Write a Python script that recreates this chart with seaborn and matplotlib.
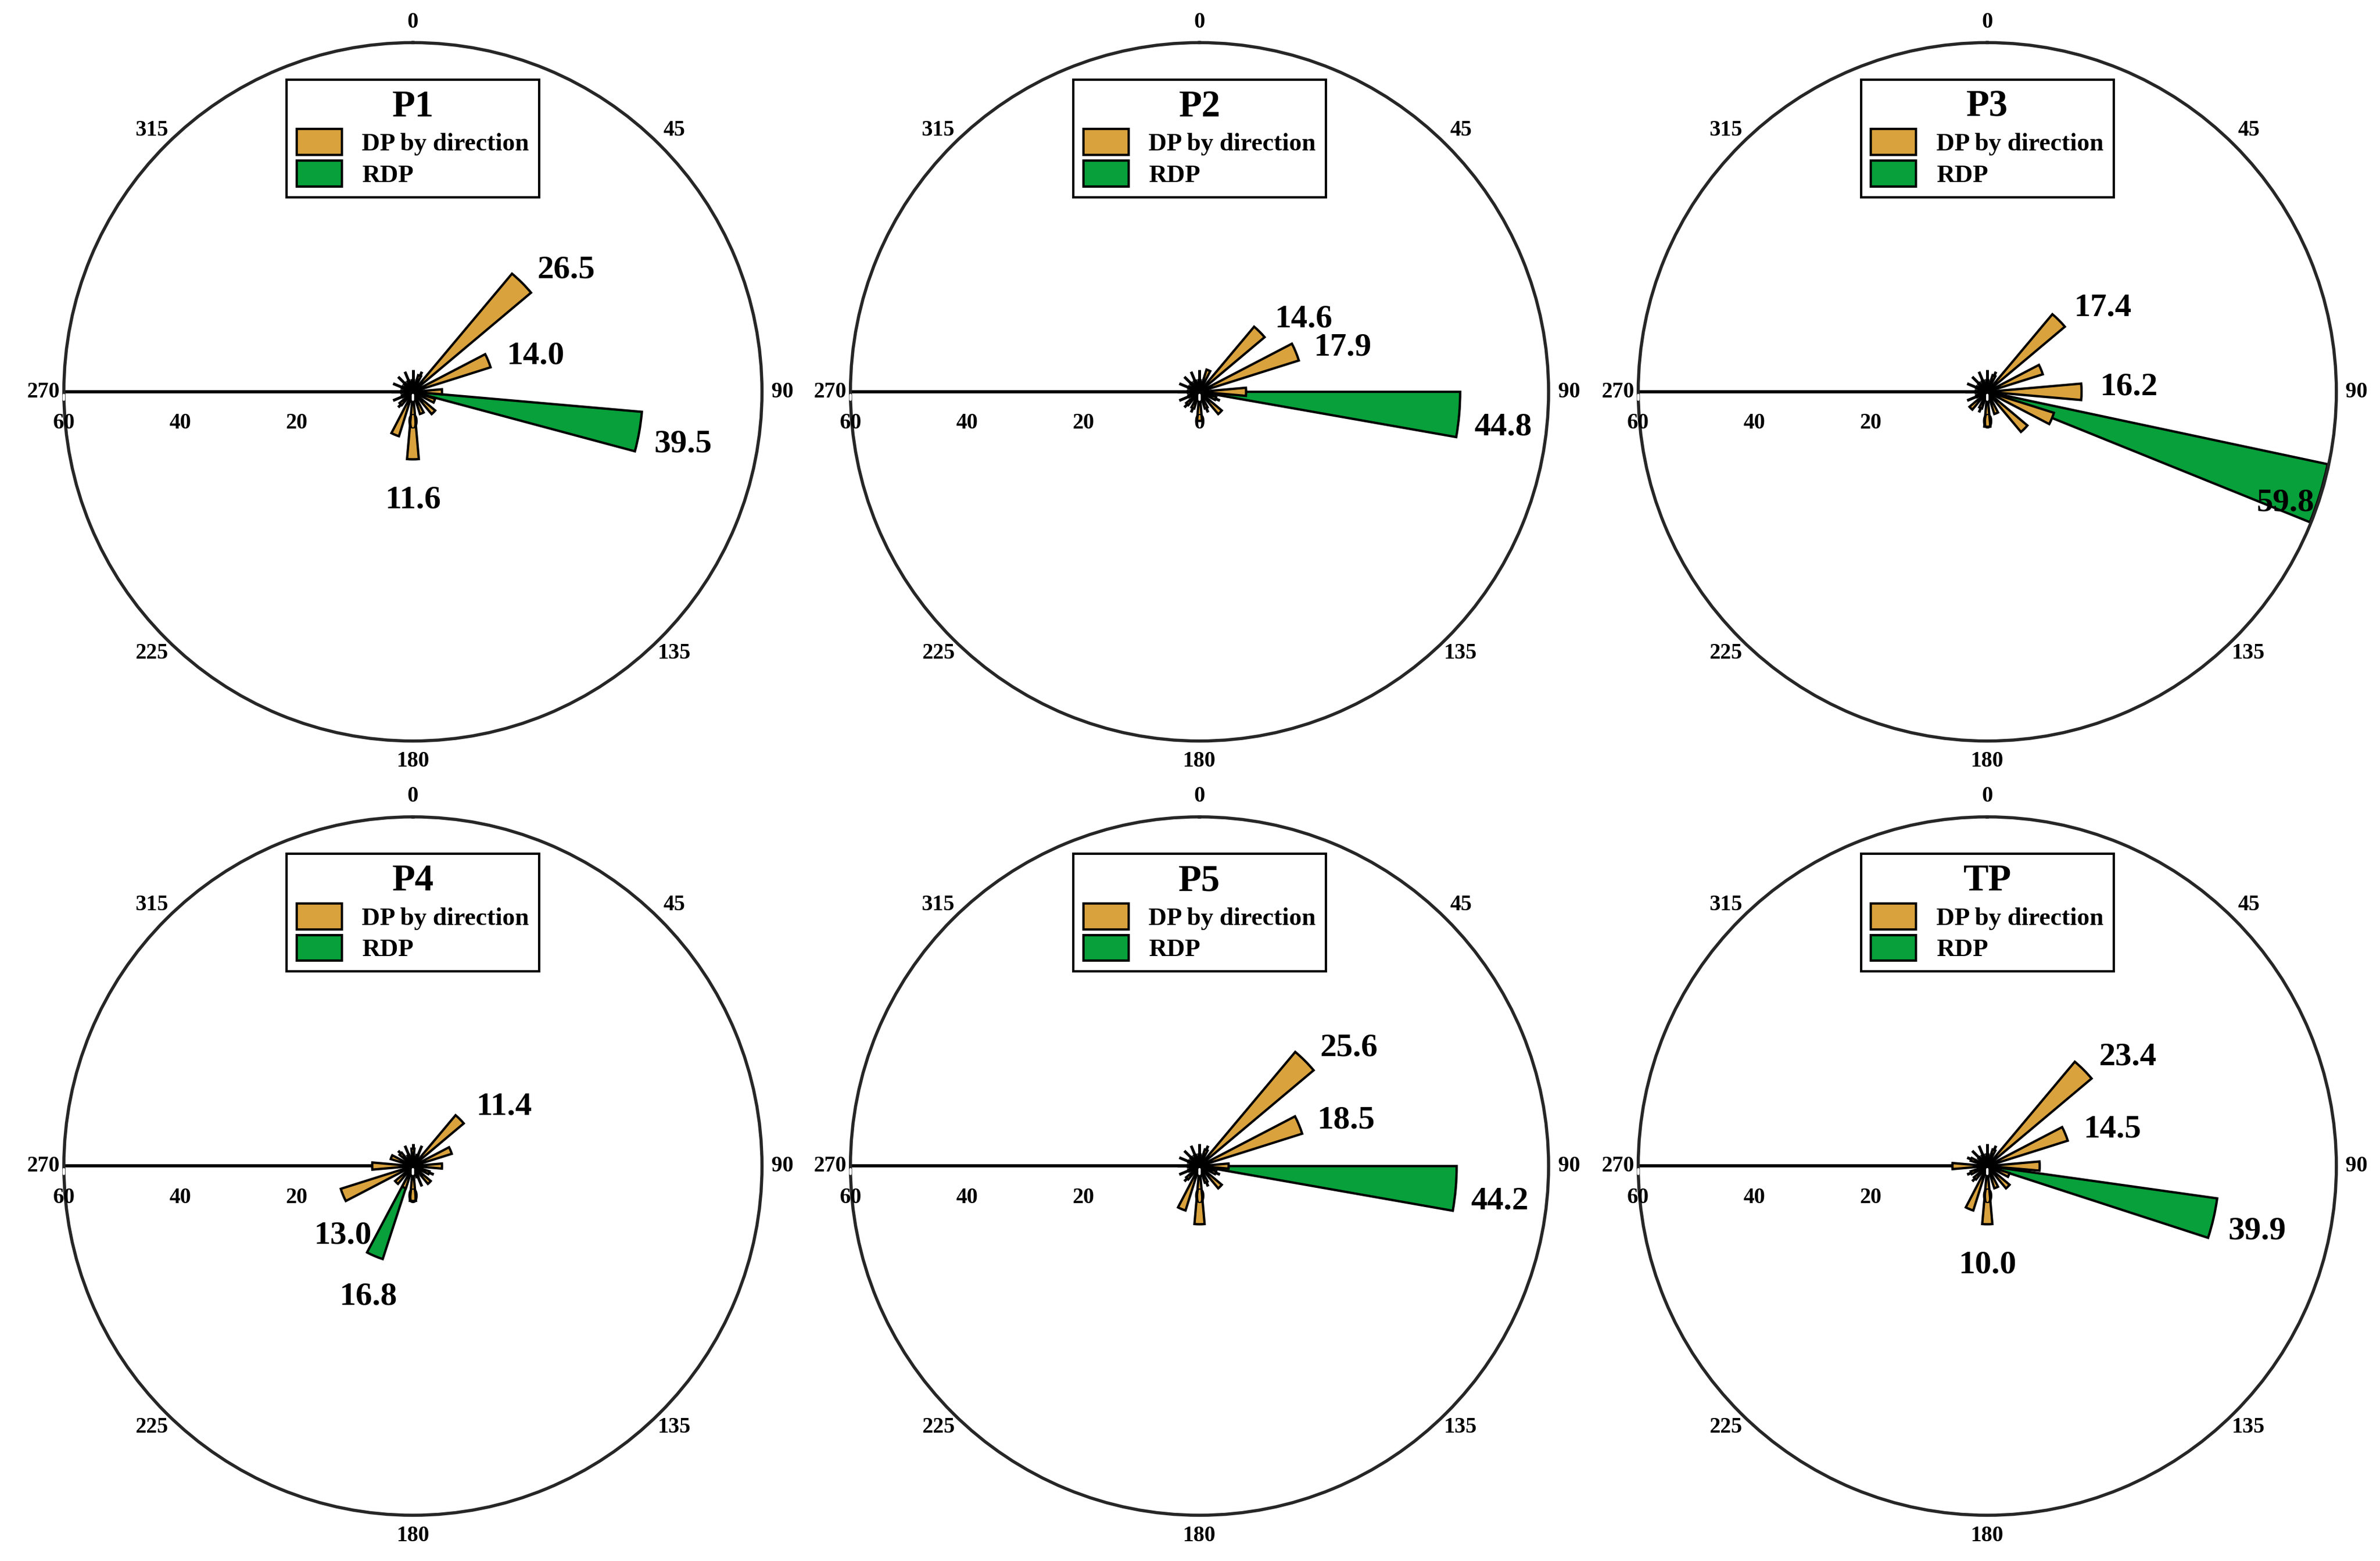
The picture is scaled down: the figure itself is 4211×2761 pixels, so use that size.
import numpy as np
import matplotlib.pyplot as plt
import seaborn as sns

sns.set_theme(style="white")
plt.rcParams['font.family'] = ['Liberation Serif', 'DejaVu Serif']
plt.rcParams['font.weight'] = 'bold'
plt.rcParams['text.color'] = 'black'
plt.rcParams['xtick.color'] = 'black'
plt.rcParams['xtick.bottom'] = True

# 16 wind directions (deg, clockwise from north)
directions = np.arange(0, 360, 22.5)

panels = ["P1", "P2", "P3", "P4", "P5", "TP"]
dp_values = {
    "P1": [2, 3, 26.5, 14.0, 5, 4, 5, 4, 11.6, 8, 3, 2, 2, 2, 2, 2],
    "P2": [2, 4, 14.6, 17.9, 8, 3, 5, 3, 5, 3, 3, 2, 2, 2, 2, 2],
    "P3": [2, 3, 17.4, 10, 16.2, 12, 9, 4, 6, 3, 4, 2, 2, 2, 2, 2],
    "P4": [3, 2, 11.4, 7, 5, 3, 4, 2, 6, 4, 4, 13.0, 7, 4, 3, 2],
    "P5": [2, 3, 25.6, 18.5, 5, 3, 5, 3, 10, 8, 3, 2, 2, 2, 2, 2],
    "TP": [2, 3, 23.4, 14.5, 9, 4, 5, 4, 10.0, 8, 3, 3, 6, 3, 2, 2],
}
rdp_dir = {"P1": 100, "P2": 95, "P3": 107, "P4": 203, "P5": 95, "TP": 103}
rdp_val = {"P1": 39.5, "P2": 44.8, "P3": 59.8, "P4": 16.8, "P5": 44.2, "TP": 39.9}
# labelled DP bars (direction index)
dp_labels = {
    "P1": [2, 3, 8], "P2": [2, 3], "P3": [2, 4],
    "P4": [2, 11], "P5": [2, 3], "TP": [2, 3, 8],
}

orange = "#D9A23D"
green = "#07A03A"

fig = plt.figure(figsize=(21.055, 13.805), dpi=200)
cx = [0.1735, 0.504, 0.835]
cy = [0.251, 0.747]
rw, rh = 0.1467, 0.2237

for i, name in enumerate(panels):
    x0 = cx[i % 3] - rw
    y0 = 1 - cy[i // 3] - rh
    ax = fig.add_axes([x0, y0, 2 * rw, 2 * rh], projection="polar")
    ax.set_theta_zero_location("N")
    ax.set_theta_direction(-1)
    ax.set_rlim(0, 60)
    ax.set_yticks([])
    ax.grid(False)
    ax.spines["polar"].set_linewidth(2)

    ax.bar(np.radians(rdp_dir[name]), rdp_val[name], width=np.radians(10),
           color=green, edgecolor="black", linewidth=1.5, label="RDP", zorder=2)
    ax.bar(np.radians(directions), dp_values[name], width=np.radians(10),
           color=orange, edgecolor="black", linewidth=1.5,
           label="DP by direction", zorder=3)

    ax.set_xticks(np.radians(directions))
    ax.set_xticklabels([str(int(d)) if d % 45 == 0 else "" for d in directions],
                       fontsize=14, fontweight="bold")
    ax.tick_params(axis="x", which="major", bottom=True, direction="in",
                   length=14, width=1.8, pad=6, colors="black")

    # radial axis along 270
    t270 = np.radians(270)
    ax.plot([t270, t270], [0, 60], color="black", lw=2, zorder=1)
    for r in [0, 20, 40, 60]:
        ax.annotate(str(r), (t270, r), xytext=(0, -20), textcoords="offset points",
                    ha="center", va="center", fontsize=14, fontweight="bold")
        ax.annotate("", (t270, r), xytext=(0, -7), textcoords="offset points",
                    arrowprops=dict(arrowstyle="-", lw=1.5))

    # value labels
    vals = dp_values[name]
    for k in dp_labels[name]:
        th = np.radians(directions[k])
        d = directions[k]
        if d == 45:
            off = (28, 8)
        elif d < 180:
            off = (30, 3)
        else:
            off = (0, -26)
        ax.annotate(f"{vals[k]:.1f}", (th, vals[k]), xytext=off, textcoords="offset points",
                    ha="center", va="center", fontsize=21, fontweight="bold", zorder=5)
    th = np.radians(rdp_dir[name])
    if name == "P3":
        off = (-22, -6)
    elif rdp_dir[name] < 180:
        off = (28, -8)
    else:
        off = (-4, -26)
    ax.annotate(f"{rdp_val[name]:.1f}", (th, rdp_val[name]), xytext=off,
                textcoords="offset points", ha="center", va="center",
                fontsize=21, fontweight="bold", zorder=5)

    h, l = ax.get_legend_handles_labels()
    leg = ax.legend(h[::-1], l[::-1], loc="upper center", bbox_to_anchor=(0.5, 0.965),
                    title=name, fancybox=False, edgecolor="black", fontsize=16,
                    handlelength=1.8, handleheight=1.2, borderpad=0.4,
                    labelspacing=0.2, framealpha=1)
    leg.get_title().set_fontsize(24)
    leg.get_title().set_fontweight("bold")
    leg.get_frame().set_linewidth(1.5)
    leg.set_zorder(6)

fig.savefig("out.png", dpi=200, facecolor="white")
